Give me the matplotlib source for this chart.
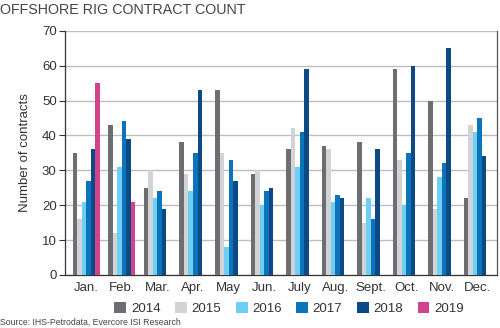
import numpy as np
import matplotlib
matplotlib.use("Agg")
import matplotlib.pyplot as plt
from matplotlib.patches import Patch

plt.rcParams['font.family'] = ['Liberation Sans', 'DejaVu Sans']

# Monthly offshore rig contracts per year
months = ["Jan.", "Feb.", "Mar.", "Apr.", "May", "Jun.", "July", "Aug.",
          "Sept.", "Oct.", "Nov.", "Dec."]
years = ["2014", "2015", "2016", "2017", "2018", "2019"]

c2014 = [35, 43, 25, 38, 53, 29, 36, 37, 38, 59, 50, 22]
c2015 = [16, 12, 30, 29, 35, 30, 42, 36, 15, 33, 19, 43]
c2016 = [21, 31, 22, 24, 8, 20, 31, 21, 22, 20, 28, 41]
c2017 = [27, 44, 24, 35, 33, 24, 41, 23, 16, 35, 32, 45]
c2018 = [36, 39, 19, 53, 27, 25, 59, 22, 36, 60, 65, 34]
c2019 = [55, 21]

colors = ["#6d6e71", "#d1d3d4", "#6dcff6", "#0b74bb", "#0d4a85", "#d2428f"]
series = [c2014, c2015, c2016, c2017, c2018, c2019]

fig = plt.figure(figsize=(5, 3.28), dpi=100)
ax = fig.add_axes([0.13, 0.162, 0.864, 0.744])

x = np.arange(len(months))
w = 0.127
for i, (vals, col) in enumerate(zip(series, colors)):
    xs = x[:len(vals)] + (i - 2.5) * w
    ax.bar(xs, vals, width=w, color=col, zorder=3)

ax.set_xlim(-0.6, 11.55)
ax.set_ylim(0, 70)
ax.set_yticks(range(0, 71, 10))
ax.set_xticks(x)
ax.set_xticklabels(months)
ax.yaxis.grid(True, color="#bcbec0", lw=1, zorder=0)
ax.tick_params(axis="x", length=0, pad=5, labelsize=9.5, colors="#333333")
ax.tick_params(axis="y", length=4, width=0.8, color="#333333", pad=2,
               labelsize=9.5, labelcolor="#333333")
for s in ["left", "bottom"]:
    ax.spines[s].set_color("#333333")
    ax.spines[s].set_linewidth(0.9)
ax.spines["top"].set_visible(False)
ax.spines["right"].set_color("#555555")
ax.spines["right"].set_linewidth(0.9)

ax.set_ylabel("Number of contracts", fontsize=9.5, color="#333333", labelpad=8)

handles = [Patch(facecolor=c, edgecolor="none", label=y) for c, y in zip(colors, years)]
fig.legend(handles=handles, loc="center", bbox_to_anchor=(0.578, 0.058), ncol=6,
           frameon=False, fontsize=9.5, handlelength=0.9, handleheight=0.9,
           handletextpad=0.35, columnspacing=1.1, labelcolor="#333333")

fig.text(0.0, 0.968, "OFFSHORE RIG CONTRACT COUNT", fontsize=10.3, color="#444444",
         va="center", ha="left")
fig.text(0.0, 0.016, "Source: IHS-Petrodata, Evercore ISI Research", fontsize=6.3,
         color="#444444", va="center", ha="left")

fig.savefig("out.png", dpi=100)
